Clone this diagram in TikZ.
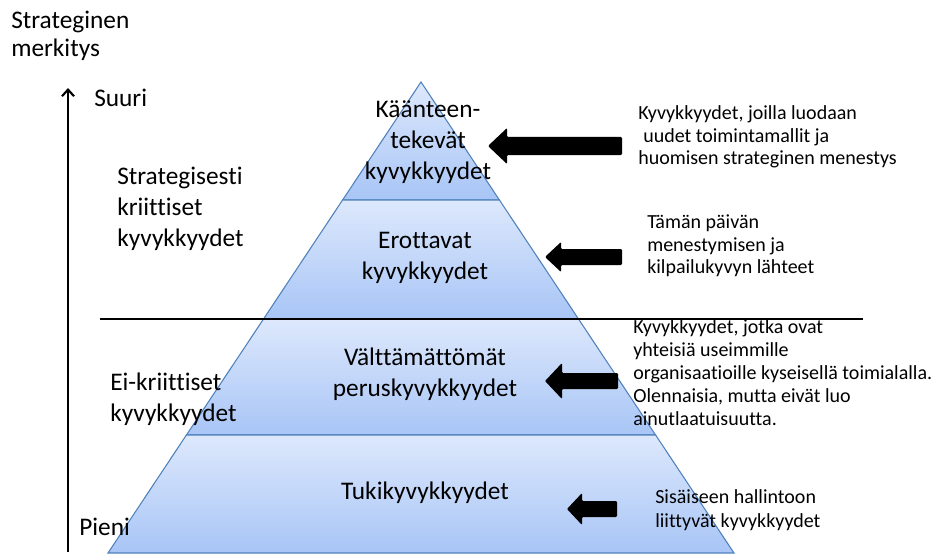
\documentclass[tikz,border=0pt]{standalone}
\usepackage{fontspec}
\setmainfont{Carlito}[Ligatures={NoCommon}]
\usetikzlibrary{arrows.meta,calc}
\definecolor{bandtop}{HTML}{DDE8FC}
\definecolor{bandbot}{HTML}{A8C5F6}
\definecolor{bandedge}{HTML}{4F81BD}

% block arrow pointing left: tip x, tip y, tail x, body half height, head half height, head length
\newcommand\leftblockarrow[6]{%
  \fill[black, rounded corners=0.8pt]
    (#1,#2) -- (#1+#6,#2-#5) -- (#1+#6,#2-#4) -- (#3,#2-#4)
    -- (#3,#2+#4) -- (#1+#6,#2+#4) -- (#1+#6,#2+#5) -- cycle;}

\begin{document}
\begin{tikzpicture}[x=0.75pt,y=-0.75pt,
  band/.style={top color=bandtop, bottom color=bandbot, draw=bandedge, line width=0.8pt},
  biglabel/.style={font=\fontsize{19}{23}\selectfont, inner sep=0pt},
  sidelabel/.style={font=\fontsize{19}{23.3}\selectfont, inner sep=0pt, align=left, anchor=west},
  note/.style={font=\fontsize{15}{17}\selectfont, inner sep=0pt, align=left, anchor=west}]

\useasboundingbox[fill=white] (0,0) rectangle (937,556);

% pyramid corners
\coordinate (apex) at (421,82);
\coordinate (bl) at (108,553);
\coordinate (br) at (734,553);
% band boundaries along the two sides
\coordinate (l1) at ($(apex)!0.2505!(bl)$);
\coordinate (r1) at ($(apex)!0.2505!(br)$);
\coordinate (l2) at ($(apex)!0.5032!(bl)$);
\coordinate (r2) at ($(apex)!0.5032!(br)$);
\coordinate (l3) at ($(apex)!0.7495!(bl)$);
\coordinate (r3) at ($(apex)!0.7495!(br)$);

% four shaded bands
\path[band] (apex) -- (r1) -- (l1) -- cycle;
\path[band] (l1) -- (r1) -- (r2) -- (l2) -- cycle;
\path[band] (l2) -- (r2) -- (r3) -- (l3) -- cycle;
\path[band] (l3) -- (r3) -- (br) -- (bl) -- cycle;

% divider between critical and non-critical capabilities
\coordinate (divl) at (100,319);
\coordinate (divr) at (863,319);
\draw[line width=1.5pt] (divl) -- (divr);

% vertical axis of strategic importance
\coordinate (axbot) at (68,552);
\coordinate (axtop) at (68,88);
\draw[line width=1.6pt, -{Straight Barb[length=5pt,width=9pt]}] (axbot) -- (axtop);

% axis labels
\node[sidelabel, font=\fontsize{19}{21}\selectfont] (axis) at (11,36) {Strateginen\\merkitys};
\node[sidelabel] (big) at (94,98) {Suuri};
\node[sidelabel] (small) at (79,527) {Pieni};

% group labels
\node[sidelabel] (crit) at (117,209) {Strategisesti\\kriittiset\\kyvykkyydet};
\node[sidelabel] (noncrit) at (110,399) {Ei-kriittiset\\kyvykkyydet};

% pyramid labels
\node[biglabel, align=center] (turn) at (428,142) {Käänteen-\\tekevät\\kyvykkyydet};
\node[biglabel, align=center] (dist) at (425,258) {Erottavat\\kyvykkyydet};
\node[biglabel, align=center] (core) at (425,374) {Välttämättömät\\peruskyvykkyydet};
\node[biglabel] (supp) at (425,493) {Tukikyvykkyydet};

% explanatory notes
\node[note] (n1) at (638,137) {Kyvykkyydet, joilla luodaan\\\hspace*{0.25em}uudet toimintamallit ja\\huomisen strateginen menestys};
\node[note] (n2) at (647,246) {Tämän päivän\\menestymisen ja\\kilpailukyvyn lähteet};
\node[note, font=\fontsize{15}{17.25}\selectfont] (n3) at (633,373) {Kyvykkyydet, jotka ovat\\yhteisiä useimmille\\organisaatioille kyseisellä toimialalla.\\Olennaisia, mutta eivät luo\\ainutlaatuisuutta.};
\node[note, font=\fontsize{15}{18}\selectfont] (n4) at (655,510) {Sisäiseen hallintoon\\liittyvät kyvykkyydet};

% block arrows from the notes to the pyramid
\leftblockarrow{488}{146}{622}{9}{18}{19}
\leftblockarrow{545}{257}{622}{8}{15}{16}
\leftblockarrow{545}{381}{618}{8}{18}{17}
\leftblockarrow{567}{509}{617}{8}{16}{15}

\end{tikzpicture}
\end{document}
